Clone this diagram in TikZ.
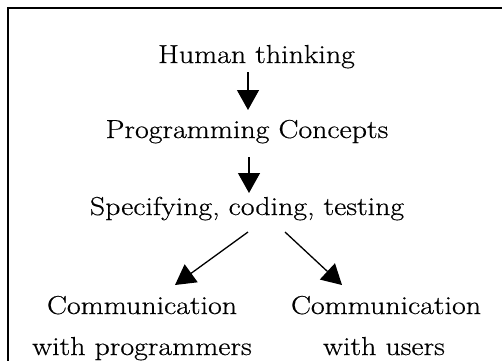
\documentclass[tikz,border=0pt]{standalone}
\usepackage{fontspec}
\setmainfont{Latin Modern Roman}[FakeStretch=1.15,FakeBold=0.5]
\usetikzlibrary{arrows.meta}
\begin{document}
\begin{tikzpicture}[x=1pt,y=1pt,
  lbl/.style={inner sep=0pt,anchor=base,font=\fontsize{26}{40}\selectfont,align=center},
  arr/.style={line width=1.3pt,-{Triangle[width=22pt,length=20pt]}},
  frame/.style={line width=2pt}]
  \useasboundingbox (0,0) rectangle (502,-360);
  % outer frame, running past the right and bottom edges
  \begin{scope}
    \clip (0,0) rectangle (502,-360);
    \draw[frame] (7.5,-7.5) rectangle (530,-390);
  \end{scope}
  % chain of stages
  \node[lbl] (ht)  at (256.5,-63) {Human thinking};
  \node[lbl] (pc)  at (247,-138)  {Programming Concepts};
  \node[lbl] (sct) at (247,-215)  {Specifying, coding, testing};
  \node[lbl] (cp1) at (142,-314)  {Communication};
  \node[lbl] (cp2) at (142,-355)  {with programmers};
  \node[lbl] (cu1) at (386,-314)  {Communication};
  \node[lbl] (cu2) at (384,-355)  {with users};
  % connectors
  \draw[arr] ([xshift=-8.5pt,yshift=-9pt]ht.base) -- ([xshift=1pt,yshift=28pt]pc.base);
  \draw[arr] ([xshift=2pt,yshift=-19pt]pc.base) -- ([xshift=2pt,yshift=22pt]sct.base);
  \draw[arr] ([xshift=1pt,yshift=-17pt]sct.base) -- ([xshift=33pt,yshift=29pt]cp1.base);
  \draw[arr] ([xshift=38pt,yshift=-17pt]sct.base) -- ([xshift=-44pt,yshift=29pt]cu1.base);
\end{tikzpicture}
\end{document}
